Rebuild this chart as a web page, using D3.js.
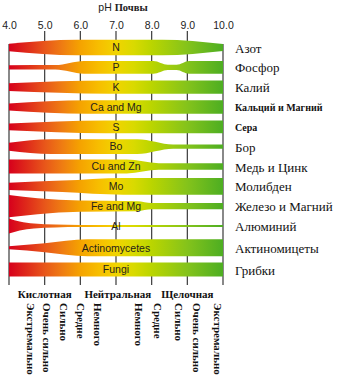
<!DOCTYPE html>
<html>
<head>
<meta charset="utf-8">
<script src="https://cdn.jsdelivr.net/npm/d3@7"></script>
<style>
  html, body { margin: 0; padding: 0; background: #fff; }
  svg { display: block; }
</style>
</head>
<body>
<svg id="chart" width="350" height="389"></svg>
<script>
// Nutrient / organism rows (label inside the band and Russian name on the right)
const bandLabels = ["N", "P", "K", "Ca and Mg", "S", "Bo", "Cu and Zn", "Mo", "Fe and Mg", "Al", "Actinomycetes", "Fungi"];
const rowNames = ["Азот", "Фосфор", "Калий", "Кальций и Магний", "Сера", "Бор", "Медь и Цинк", "Молибден", "Железо и Магний", "Алюминий", "Актиномицеты", "Грибки"];
const smallNames = ["Кальций и Магний", "Сера"];

// Relative availability profiles: [pH, availability]
const availN   = [[4.0, 0.48], [5.9, 0.98], [8.3, 0.98], [10.0, 0.45]];
const availP   = [[4.0, 0.27], [5.3, 0.28], [6.1, 0.8], [8.05, 0.8], [8.45, 0.33], [8.7, 0.33], [9.05, 0.8], [10.0, 0.8]];
const availK   = [[4.0, 0.48], [6.8, 0.82], [10.0, 0.82]];
const availCa  = [[4.0, 0.45], [6.2, 0.85], [10.0, 0.85]];
const availS   = [[4.0, 0.42], [6.7, 0.8], [10.0, 0.8]];
const availBo  = [[4.0, 0.5], [5.2, 0.92], [7.6, 0.92], [8.6, 0.27], [10.0, 0.27]];
const availCu  = [[4.0, 0.86], [7.3, 0.86], [8.2, 0.42], [10.0, 0.42]];
const availMo  = [[4.0, 0.46], [5.5, 0.72], [7.2, 1.05], [10.0, 1.05]];
const availFe  = [[4.0, 1.4], [4.8, 1.0], [6.0, 0.7], [7.6, 0.62], [8.0, 0.4], [10.0, 0.4]];
const availAl  = [[4.0, 0.95], [4.3, 0.55], [4.7, 0.3], [5.3, 0.18], [6.0, 0.14], [10.0, 0.12]];
const availAct = [[4.0, 0.2], [5.0, 0.55], [6.2, 1.05], [10.0, 1.05]];
const availFun = [[4.0, 0.88], [10.0, 0.88]];
const profiles = [availN, availP, availK, availCa, availS, availBo, availCu, availMo, availFe, availAl, availAct, availFun];

// pH axis
const phTicks = [4, 5, 6, 7, 8, 9, 10];
const gradPH = [4.0, 4.5, 5.0, 5.5, 6.0, 6.5, 7.0, 7.5, 8.0, 9.0, 10.0];
const gradColors = ["#d7001c", "#df2a1a", "#e8561a", "#ef7d12", "#f5a300", "#f7bd00", "#f1d400", "#d9da00", "#bad500", "#84c31b", "#4dae22"];

// Soil reaction zones and degree labels under the chart
const zoneLabels = ["Кислотная", "Нейтральная", "Щелочная"];
const zonePH = [5.0, 7.05, 9.0];
const degreeLabels = ["Экстремально", "Очень сильно", "Сильно", "Средне", "Немного", "Немного", "Средне", "Сильно", "Очень сильно", "Экстремально"];
const degreePH = [4.4, 4.87, 5.33, 5.82, 6.3, 7.45, 7.98, 8.56, 9.07, 9.65];

const SANS = "'Liberation Sans', Arial, sans-serif";
const SERIF = "'Liberation Serif', 'Times New Roman', serif";

const svg = d3.select("#chart");

const x = d3.scaleLinear().domain([4, 10]).range([9, 223]);
const rowY = d3.scaleLinear().domain([0, 9, 11]).range([47.5, 226, 269.5]);
const thick = d3.scaleLinear().domain([0, 1]).range([0, 16]);

// horizontal colour gradient along pH
const defs = svg.append("defs");
const grad = defs.append("linearGradient")
  .attr("id", "phGrad")
  .attr("gradientUnits", "userSpaceOnUse")
  .attr("x1", x(4)).attr("x2", x(10)).attr("y1", 0).attr("y2", 0);
grad.selectAll("stop").data(gradPH).join("stop")
  .attr("offset", d => (d - 4) / 6)
  .attr("stop-color", (d, i) => gradColors[i]);

// vertical grid lines
svg.append("g").selectAll("line").data(phTicks).join("line")
  .attr("x1", d => x(d)).attr("x2", d => x(d))
  .attr("y1", d => (d === 4 || d === 10) ? 44 : 31)
  .attr("y2", 285)
  .attr("stroke", "#3a3a3a")
  .attr("stroke-width", 1.2);

// tick labels
const axis = d3.axisTop(x).tickValues(phTicks).tickFormat(d3.format(".1f")).tickSize(0).tickPadding(2);
const ag = svg.append("g").attr("transform", "translate(0,31)").call(axis);
ag.select(".domain").remove();
ag.selectAll("text").attr("font-family", SANS).attr("font-size", 10.5).attr("fill", "#222");

// title
const title = svg.append("text").attr("x", 123).attr("y", 11).attr("text-anchor", "middle").attr("fill", "#222");
title.append("tspan").attr("font-family", SANS).attr("font-size", 10.5).text("pH ");
title.append("tspan").attr("font-family", SERIF).attr("font-size", 10.5).attr("font-weight", "bold").text("Почвы");

// bands
profiles.forEach((prof, i) => {
  const cy = rowY(i);
  const area = d3.area()
    .x(d => x(d[0]))
    .y0(d => cy - thick(d[1]) / 2)
    .y1(d => cy + thick(d[1]) / 2)
    .curve(d3.curveMonotoneX);
  svg.append("path").datum(prof).attr("d", area).attr("fill", "url(#phGrad)");
});

// band labels
svg.append("g").selectAll("text").data(bandLabels).join("text")
  .attr("x", x(7))
  .attr("y", (d, i) => rowY(i))
  .attr("dy", "0.36em")
  .attr("text-anchor", "middle")
  .attr("font-family", SANS)
  .attr("font-size", 10.5)
  .attr("fill", "#26221a")
  .text(d => d);

// Russian names on the right
svg.append("g").selectAll("text").data(rowNames).join("text")
  .attr("x", 235)
  .attr("y", (d, i) => rowY(i) + (smallNames.includes(d) ? 4 : 5))
  .attr("font-family", SERIF)
  .attr("font-size", d => smallNames.includes(d) ? 10 : 13)
  .attr("font-weight", d => smallNames.includes(d) ? "bold" : "normal")
  .attr("fill", "#111")
  .text(d => d);

// zone labels
svg.append("g").selectAll("text").data(zoneLabels).join("text")
  .attr("x", (d, i) => x(zonePH[i]))
  .attr("y", 298)
  .attr("text-anchor", "middle")
  .attr("font-family", SERIF)
  .attr("font-size", 11)
  .attr("font-weight", "bold")
  .attr("fill", "#111")
  .text(d => d);

// degree labels, rotated
svg.append("g").selectAll("text").data(degreeLabels).join("text")
  .attr("transform", (d, i) => `translate(${x(degreePH[i])},303) rotate(90)`)
  .attr("dy", "-0.3em")
  .attr("font-family", SERIF)
  .attr("font-size", 11)
  .attr("font-weight", "bold")
  .attr("fill", "#111")
  .text(d => d);
</script>
</body>
</html>
